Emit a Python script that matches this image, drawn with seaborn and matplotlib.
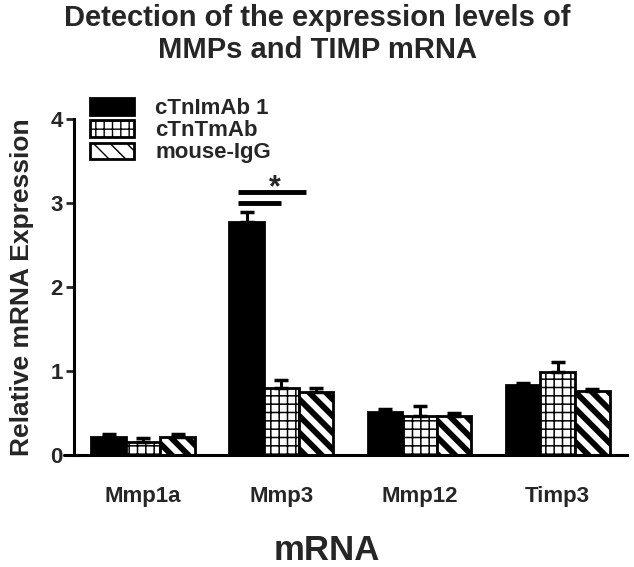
import numpy as np
import pandas as pd
import seaborn as sns
import matplotlib
matplotlib.use('Agg')
import matplotlib.pyplot as plt
from matplotlib.patches import Patch

# data
genes = ['Mmp1a', 'Mmp3', 'Mmp12', 'Timp3']
groups = ['cTnImAb 1', 'cTnTmAb', 'mouse-IgG']
ctni_mean = [0.22, 2.77, 0.51, 0.83]
ctni_err = [0.03, 0.12, 0.04, 0.03]
ctnt_mean = [0.16, 0.80, 0.46, 0.99]
ctnt_err = [0.04, 0.09, 0.12, 0.12]
igg_mean = [0.22, 0.75, 0.47, 0.76]
igg_err = [0.03, 0.05, 0.03, 0.03]

means = [ctni_mean, ctnt_mean, igg_mean]
errs = [ctni_err, ctnt_err, igg_err]

rows = []
for g, m in zip(groups, means):
    for gene, v in zip(genes, m):
        rows.append({'gene': gene, 'group': g, 'value': v})
df = pd.DataFrame(rows)

sns.set_style('white')
plt.rcParams['font.family'] = ['Liberation Sans', 'DejaVu Sans']
plt.rcParams['font.weight'] = 'bold'
plt.rcParams['hatch.color'] = 'black'

fig = plt.figure(figsize=(6.34, 5.67), dpi=100)
ax = fig.add_axes([0.1167, 0.1975, 0.872, 0.5925])

sns.barplot(data=df, x='gene', y='value', hue='group', order=genes,
            hue_order=groups, palette=['black', 'white', 'white'],
            errorbar=None, width=0.75, legend=False, ax=ax,
            edgecolor='black', linewidth=2.0)

faces = ['black', 'white', 'white']
hatches = [None, '++', '\\\\']
hatch_lw = [1.0, 1.1, 4.2]

bar_groups = list(ax.containers)
for i, cont in enumerate(bar_groups):
    xs = []
    for bar in cont:
        bar.set_facecolor(faces[i])
        bar.set_edgecolor('black')
        if hatches[i]:
            bar.set_hatch(hatches[i])
            if hasattr(bar, 'set_hatch_linewidth'):
                bar.set_hatch_linewidth(hatch_lw[i])
        xs.append(bar.get_x() + bar.get_width() / 2)
    m = np.array(means[i])
    e = np.array(errs[i])
    ax.errorbar(xs, m, yerr=[np.zeros_like(e), e], fmt='none',
                ecolor='black', elinewidth=2.2, capsize=5, capthick=2.5,
                zorder=1)

# significance marks on Mmp3
ax.plot([0.69, 1.18], [3.13, 3.13], color='black', lw=3.5, solid_capstyle='butt')
ax.plot([0.69, 1.0], [3.0, 3.0], color='black', lw=3.5, solid_capstyle='butt')
ax.text(0.95, 3.18, '*', ha='center', va='center', fontsize=22, fontweight='bold')

ax.set_xlim(-0.5, 3.5)
ax.set_ylim(0, 4)
ax.set_yticks([0, 1, 2, 3, 4])
ax.tick_params(axis='y', direction='out', length=6, width=2, labelsize=16, pad=2, left=True)
ax.tick_params(axis='x', length=0, labelsize=16, pad=22)
for lab in ax.get_xticklabels() + ax.get_yticklabels():
    lab.set_fontweight('bold')

for side in ['top', 'right']:
    ax.spines[side].set_visible(False)
for side in ['left', 'bottom']:
    ax.spines[side].set_linewidth(2.2)
    ax.spines[side].set_color('black')
# x axis line runs a little past the y axis, as in the original
ax.axhline(0, xmin=-0.018, xmax=0.01, color='black', lw=2.2, clip_on=False)

ax.set_xlabel('mRNA', fontsize=25, fontweight='bold')
ax.xaxis.set_label_coords(0.457, -0.235)
ax.set_ylabel('Relative mRNA Expression', fontsize=19, fontweight='bold', labelpad=12)

fig.suptitle('Detection of the expression levels of\nMMPs and TIMP mRNA',
             fontsize=21, fontweight='bold', y=0.993, linespacing=1.2)

handles = []
for i, g in enumerate(groups):
    p = Patch(facecolor=faces[i], edgecolor='black', linewidth=2.0,
              hatch=hatches[i], label=g)
    handles.append(p)
ax.legend(handles=handles, loc='upper left', bbox_to_anchor=(0.008, 1.095),
          frameon=False, handlelength=2.0, handleheight=0.75,
          labelspacing=0.05, handletextpad=0.95, borderpad=0,
          prop={'weight': 'bold', 'size': 16})

fig.savefig('out.png', dpi=100, facecolor='white')
